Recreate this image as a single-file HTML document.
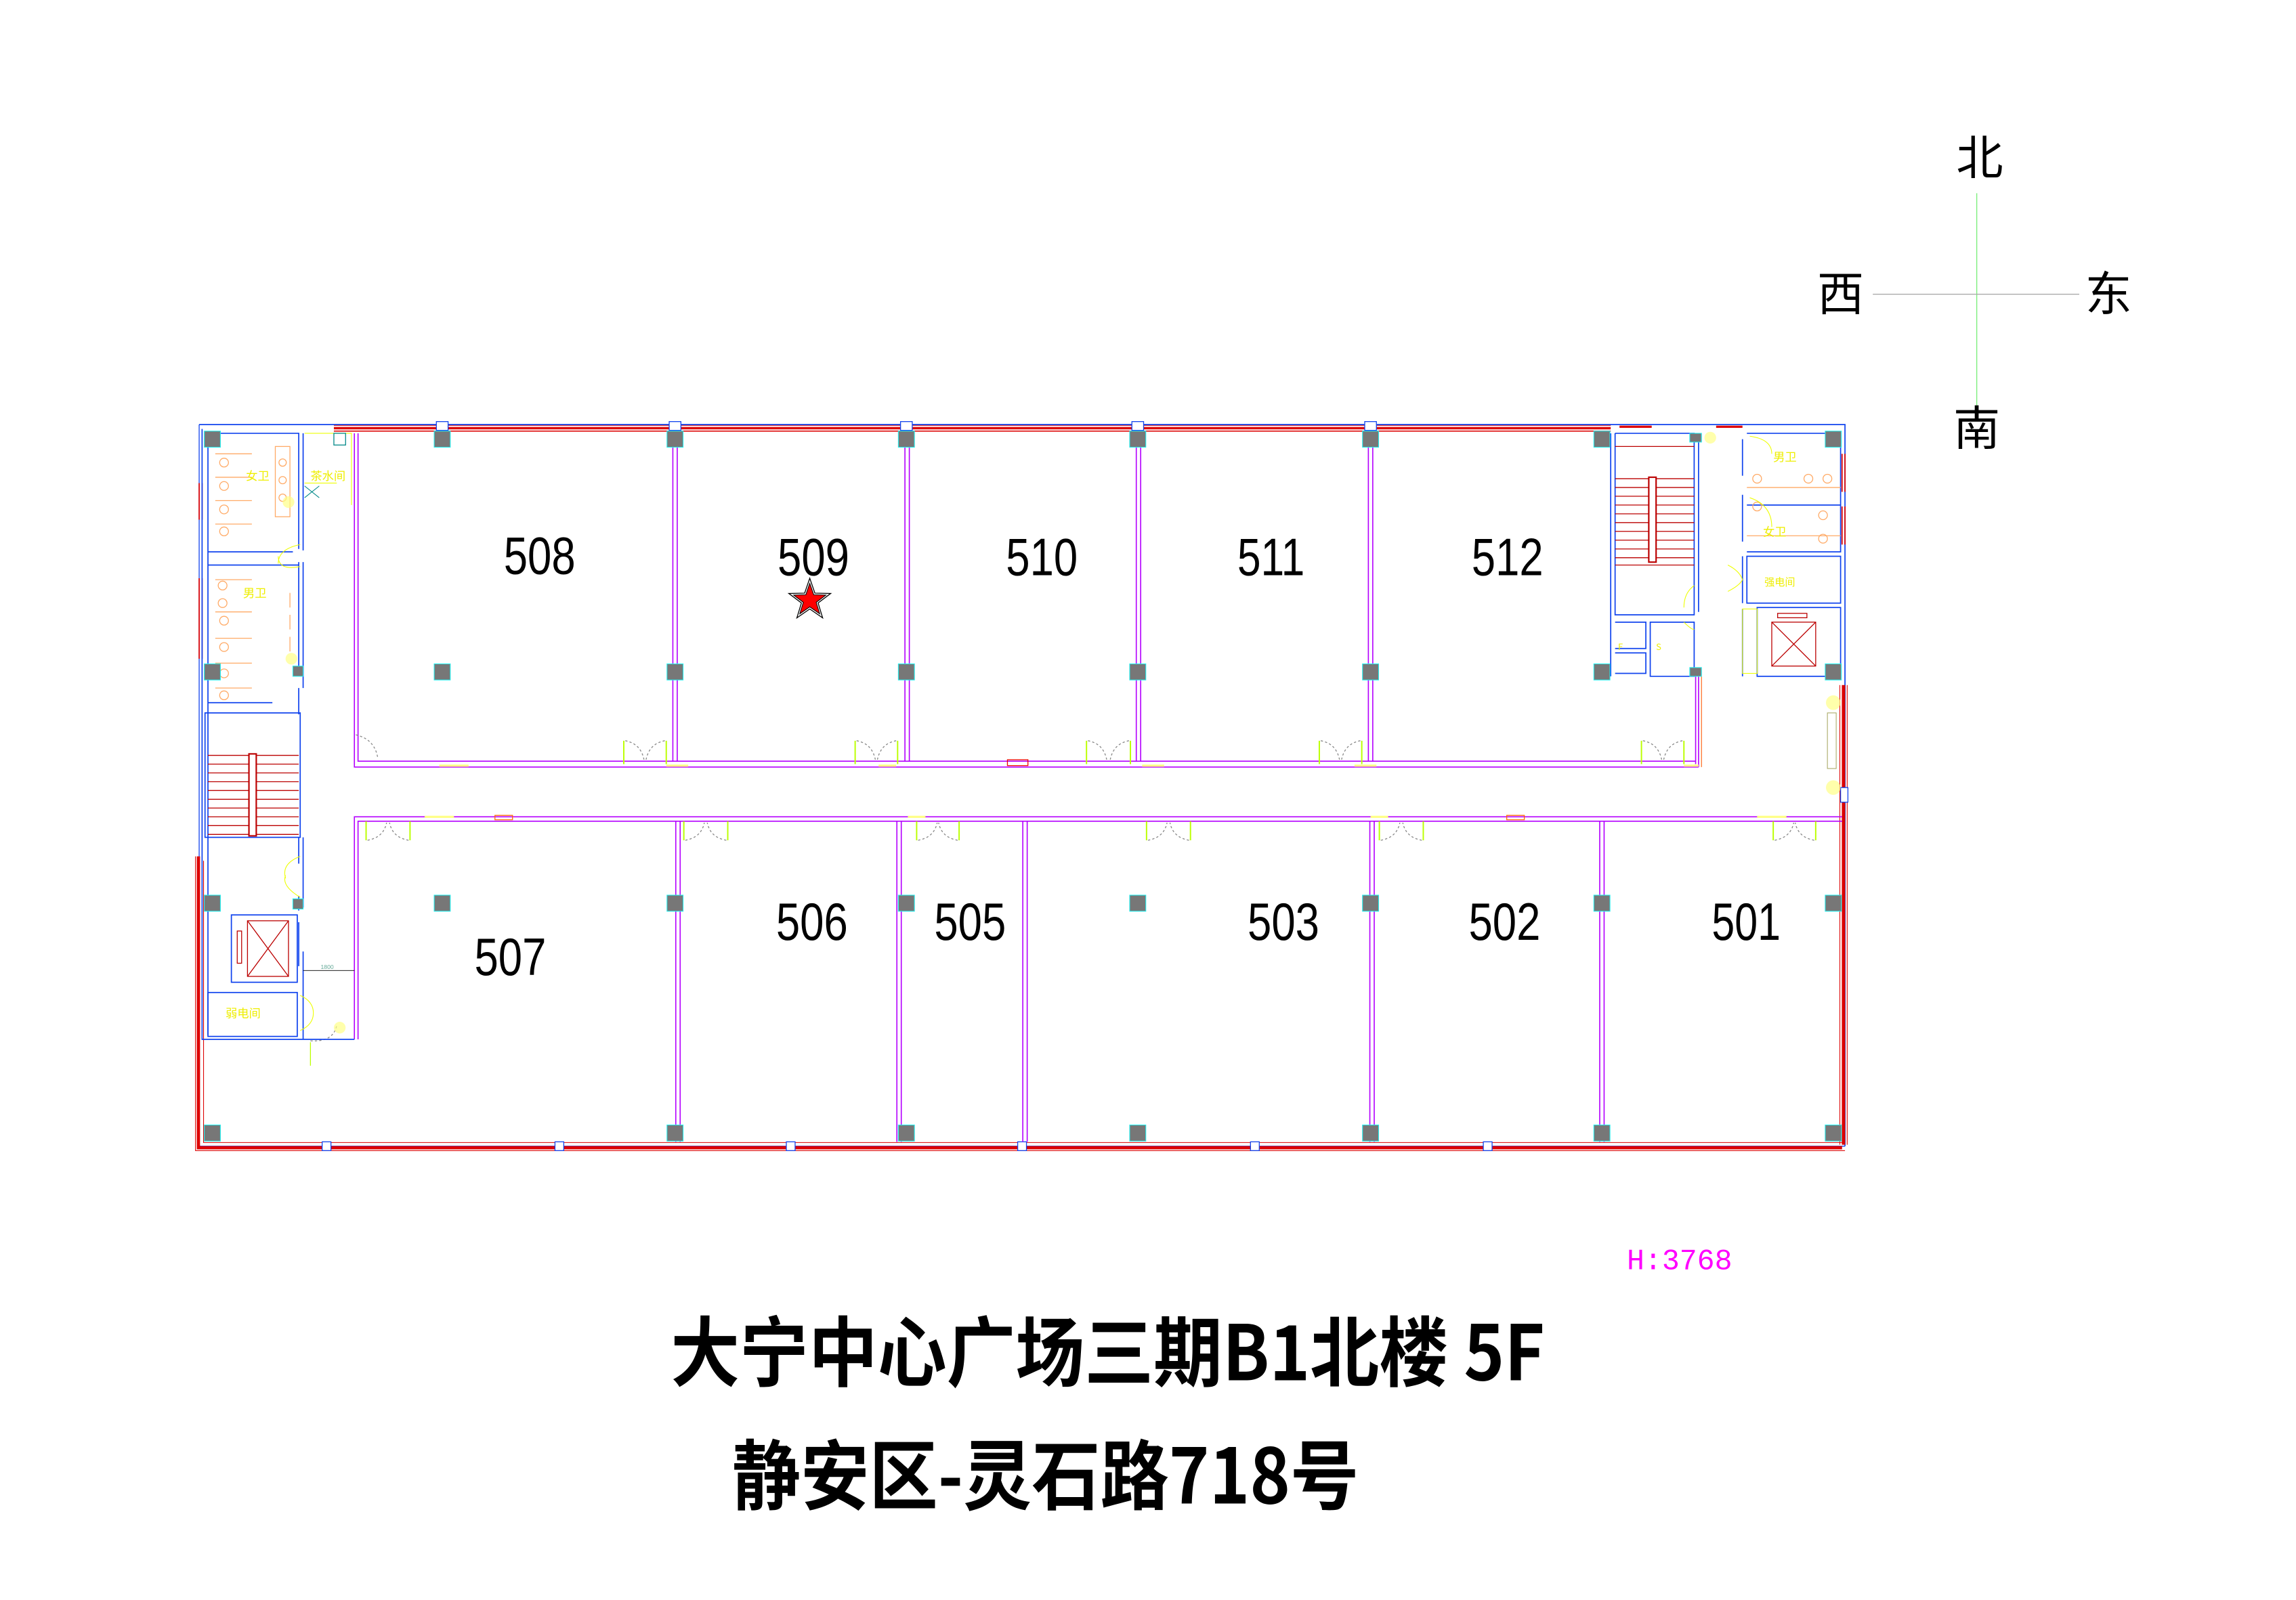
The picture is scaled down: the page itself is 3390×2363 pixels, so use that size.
<!DOCTYPE html>
<html><head><meta charset="utf-8"><style>html,body{margin:0;padding:0;background:#fff}svg{display:block}</style></head>
<body>
<svg width="3390" height="2363" viewBox="0 0 1568 1093" xmlns="http://www.w3.org/2000/svg" font-family="Liberation Sans, Noto Sans CJK SC, sans-serif">
<rect width="1568" height="1093" fill="#fff"/>
<!-- Outer walls -->
<g fill="none">
 <path d="M228 290.5H1100M228 294.5H1100" stroke="#d00" stroke-width="0.7"/>
 <path d="M228 292.5H1100" stroke="#d00" stroke-width="1.6"/>
 <path d="M136 290H1260V783" stroke="#1144ee" stroke-width="0.8"/>
 <path d="M136 290V783H1260" stroke="#1144ee" stroke-width="0.6"/>
 <path d="M135.5 585V784H1258" stroke="#d00" stroke-width="2.2"/>
 <path d="M133.5 585V786H1260M139 588V780.5H1258" stroke="#d00" stroke-width="0.5"/>
 <path d="M1259 468V538M1259 548V782" stroke="#d00" stroke-width="2.3"/>
 <path d="M1256.5 468V782M1261.5 468V782" stroke="#d00" stroke-width="0.5"/>
 <path d="M136 330V355M138 330V355M136 395V450M138 395V450M1258 310V336M1260 310V336M1258 346V372M1260 346V372" stroke="#d00" stroke-width="0.8"/>
 <path d="M1106 291.5H1128M1172 291.5H1190" stroke="#d00" stroke-width="1.5"/>
</g>
<g fill="#fff" stroke="#1144ee" stroke-width="0.6">
 <rect x="220" y="780" width="6" height="6"/><rect x="379" y="780" width="6" height="6"/><rect x="537" y="780" width="6" height="6"/><rect x="695" y="780" width="6" height="6"/><rect x="854" y="780" width="6" height="6"/><rect x="1013" y="780" width="6" height="6"/>
 <rect x="298" y="288" width="8" height="6"/><rect x="457" y="288" width="8" height="6"/><rect x="615" y="288" width="8" height="6"/><rect x="773" y="288" width="8" height="6"/><rect x="932" y="288" width="8" height="6"/>
 <rect x="1257" y="538" width="5" height="10"/>
</g>
<!-- Magenta room walls -->
<g fill="none" stroke="#b400ff" stroke-width="0.75">
 <path d="M242 296V524H1160M244.5 296V520H1158"/>
 <path d="M459.5 296V520M462.5 296V520M618 296V520M621 296V520M776 296V520M779 296V520M934.5 296V520M937.5 296V520"/>
 <path d="M242 710V558H1258M244.5 710V561H1258"/>
 <path d="M461.5 561V780M464.5 561V780M612.5 561V780M615.5 561V780M698.5 561V780M701.5 561V780M935.5 561V780M938.5 561V780M1092.5 561V780M1095.5 561V780"/>
 <path d="M1158 462V522M1160 462V524"/>
</g>
<path d="M1162 462V524" stroke="#f50" stroke-width="0.5" fill="none"/>
<g stroke="#ff8" stroke-width="1.5">
 <path d="M300 523H320M455 523H470M600 523H612M780 523H795M925 523H940M1150 523H1160"/>
 <path d="M290 558H310M620 558H632M936 558H948M1200 558H1220"/>
</g>
<rect x="688" y="519" width="14" height="4" fill="none" stroke="#e00" stroke-width="0.6"/>
<rect x="338" y="557" width="12" height="3" fill="none" stroke="#f60" stroke-width="0.6"/>
<rect x="1029" y="557" width="12" height="3" fill="none" stroke="#f60" stroke-width="0.6"/>
<!-- Doors -->
<g fill="none" stroke-width="0.6">
 <g stroke="#bf0" stroke-width="0.9">
  <path d="M426 506V522M455 506V522M584 506V522M613 506V522M742 506V522M772 506V522M901 506V522M930 506V522M1121 506V522M1150 506V522"/>
  <path d="M250 561V574M280 561V574M467 561V574M497 561V574M626 561V574M655 561V574M783 561V574M813 561V574M942 561V574M972 561V574M1211 561V574M1240 561V574"/>
 </g>
 <g stroke="#888" stroke-dasharray="1.5 1.5">
  <path d="M427 506Q438 508 440 520M454 506Q443 508 441 520M585 506Q596 508 598 520M612 506Q601 508 599 520M743 506Q754 508 756 520M771 506Q760 508 758 520M902 506Q913 508 915 520M929 506Q918 508 916 520M1122 506Q1133 508 1135 520M1149 506Q1138 508 1136 520"/>
  <path d="M251 574Q262 572 264 562M279 574Q268 572 266 562M468 574Q479 572 481 562M496 574Q485 572 483 562M627 574Q638 572 640 562M654 574Q643 572 641 562M784 574Q795 572 797 562M812 574Q801 572 799 562M943 574Q954 572 956 562M971 574Q960 572 958 562M1212 574Q1223 572 1225 562M1239 574Q1228 572 1226 562"/>
  <path d="M243 502Q256 505 258 518M212 711Q228 712 230 700"/>
 </g>
 <path d="M212 712V728" stroke="#bf0"/>
</g>
<!-- Left core -->
<g fill="none" stroke="#1144ee" stroke-width="0.8">
 <path d="M138 293V710H242M142 296V707"/>
 <path d="M142 296H204V375M142 377H200M142 386H204M142 480H186M204 384V460M204 470V488M207 296V376M207 384V470"/>
 <rect x="140" y="487" width="65" height="85"/>
 <path d="M204 572V590M207 572V620M204 612V622"/>
 <rect x="158" y="625" width="45" height="46"/>
 <rect x="142" y="678" width="61" height="30"/>
 <path d="M204 630V660M207 650V710"/>
</g>
<g stroke="#b00" stroke-width="0.6" fill="none">
 <path d="M142 516H204M142 522H204M142 528H204M142 534H204M142 540H204M142 546H204M142 552H204M142 558H204M142 564H204M142 570H204"/>
 <rect x="170" y="515" width="5" height="56" fill="#fff" stroke-width="1"/>
 <rect x="169" y="629" width="28" height="38"/><path d="M169 629L197 667M197 629L169 667"/>
 <rect x="162" y="636" width="3" height="22"/>
</g>
<g stroke="#fa6" stroke-width="0.6" fill="none">
 <path d="M147 310H172M147 326H172M147 342H172M147 358H172M147 396H172M147 418H172M147 436H172M147 453H172M147 470H172"/>
 <rect x="188" y="305" width="10" height="48"/>
 <circle cx="153" cy="316" r="3"/><circle cx="153" cy="332" r="3"/><circle cx="153" cy="348" r="3"/><circle cx="153" cy="363" r="3"/>
 <circle cx="193" cy="316" r="2.5"/><circle cx="193" cy="328" r="2.5"/><circle cx="193" cy="340" r="2.5"/>
 <circle cx="152" cy="400" r="3"/><circle cx="152" cy="412" r="3"/><circle cx="153" cy="424" r="3"/><circle cx="153" cy="442" r="3"/><circle cx="153" cy="460" r="3"/><circle cx="153" cy="475" r="3"/>
 <path d="M198 405V415M198 420V430M198 435V445"/>
</g>
<g fill="none" stroke="#ef0" stroke-width="0.5">
 <path d="M208 296H240V345M208 330H230"/>
 <path d="M205 372Q190 375 190 385M205 387Q190 390 190 380"/>
 <path d="M205 585Q192 590 195 600M205 613Q192 605 195 598"/>
 <path d="M205 680Q214 684 214 692M205 704Q214 700 214 692"/>
</g>
<path d="M208 332L218 340M218 332L208 340" stroke="#088" stroke-width="0.5"/>
<rect x="228" y="296" width="8" height="8" fill="none" stroke="#088" stroke-width="0.6"/>
<path d="M207 663H242" stroke="#000" stroke-width="0.4"/>
<text x="219" y="662" font-size="4" fill="#6a9">1800</text>
<!-- Right core -->
<g fill="none" stroke="#1144ee" stroke-width="0.8">
 <path d="M1100 296V462M1103 296H1157V420H1103V296M1160 296V418M1103 425H1124V443H1103M1103 446H1124V460H1103M1127 425H1157V462H1127Z"/>
 <path d="M1190 300V325M1190 338V370M1193 296H1257M1193 345H1257M1193 377H1257V296"/>
 <rect x="1193" y="380" width="64" height="32"/>
 <rect x="1200" y="415" width="57" height="47"/>
 <path d="M1190 380V412M1190 416V462"/>
</g>
<g stroke="#b00" stroke-width="0.6" fill="none">
 <path d="M1103 327H1157M1103 333H1157M1103 339H1157M1103 345H1157M1103 351H1157M1103 357H1157M1103 363H1157M1103 369H1157M1103 375H1157M1103 381H1157M1103 386H1157"/>
 <rect x="1126" y="326" width="5" height="58" fill="#fff" stroke-width="1"/>
 <path d="M1103 305H1157"/>
 <rect x="1210" y="425" width="30" height="30"/><path d="M1210 425L1240 455M1240 425L1210 455"/>
 <rect x="1214" y="419" width="20" height="3"/>
</g>
<g stroke="#fa6" stroke-width="0.6" fill="none">
 <path d="M1193 333H1257M1193 366H1257"/>
 <circle cx="1200" cy="327" r="3"/><circle cx="1200" cy="346" r="3"/><circle cx="1235" cy="327" r="3"/><circle cx="1248" cy="327" r="3"/><circle cx="1245" cy="352" r="3"/><circle cx="1245" cy="368" r="3"/>
</g>
<g fill="none" stroke="#ef0" stroke-width="0.5">
 <path d="M1195 298Q1210 300 1210 310M1195 340Q1210 345 1210 360M1180 386Q1188 390 1190 396M1180 404Q1188 400 1190 396M1157 400Q1150 405 1150 415M1150 425Q1155 430 1157 430"/>
 <rect x="1190" y="416" width="10" height="44"/>
 <rect x="1248" y="487" width="6" height="38" stroke="#aa6"/>
</g>
<g fill="#ff8" opacity="0.7"><circle cx="1168" cy="299" r="4"/><circle cx="1252" cy="480" r="5"/><circle cx="1252" cy="538" r="5"/><circle cx="199" cy="450" r="4"/><circle cx="232" cy="702" r="4"/><circle cx="197" cy="343" r="4"/></g>
<g fill="#ee0" font-family="Noto Sans CJK SC, WenQuanYi Zen Hei, sans-serif" font-size="8">
 <text x="168" y="328">女卫</text><text x="212" y="328">茶水间</text><text x="166" y="408">男卫</text><text x="154" y="695">弱电间</text>
 <text x="1211" y="315">男卫</text><text x="1204" y="366">女卫</text><text x="1205" y="400" font-size="7">强电间</text>
 <text x="1105" y="444" font-size="6">F</text><text x="1131" y="444" font-size="6">S</text>
</g>
<!-- Columns -->
<g fill="#777" stroke="#2ee" stroke-width="0.5">
 <rect x="139.5" y="294.5" width="11" height="11"/><rect x="296.5" y="294.5" width="11" height="11"/><rect x="455.5" y="294.5" width="11" height="11"/><rect x="613.5" y="294.5" width="11" height="11"/><rect x="771.5" y="294.5" width="11" height="11"/><rect x="930.5" y="294.5" width="11" height="11"/><rect x="1088.5" y="294.5" width="11" height="11"/><rect x="1246.5" y="294.5" width="11" height="11"/>
 <rect x="139.5" y="453.5" width="11" height="11"/><rect x="296.5" y="453.5" width="11" height="11"/><rect x="455.5" y="453.5" width="11" height="11"/><rect x="613.5" y="453.5" width="11" height="11"/><rect x="771.5" y="453.5" width="11" height="11"/><rect x="930.5" y="453.5" width="11" height="11"/><rect x="1088.5" y="453.5" width="11" height="11"/><rect x="1246.5" y="453.5" width="11" height="11"/>
 <rect x="139.5" y="611.5" width="11" height="11"/><rect x="296.5" y="611.5" width="11" height="11"/><rect x="455.5" y="611.5" width="11" height="11"/><rect x="613.5" y="611.5" width="11" height="11"/><rect x="771.5" y="611.5" width="11" height="11"/><rect x="930.5" y="611.5" width="11" height="11"/><rect x="1088.5" y="611.5" width="11" height="11"/><rect x="1246.5" y="611.5" width="11" height="11"/>
 <rect x="139.5" y="768.5" width="11" height="11"/><rect x="455.5" y="768.5" width="11" height="11"/><rect x="613.5" y="768.5" width="11" height="11"/><rect x="771.5" y="768.5" width="11" height="11"/><rect x="930.5" y="768.5" width="11" height="11"/><rect x="1088.5" y="768.5" width="11" height="11"/><rect x="1246.5" y="768.5" width="11" height="11"/>
 <rect x="200" y="455" width="7" height="7"/><rect x="200" y="614" width="7" height="7"/><rect x="1154" y="296" width="8" height="6"/><rect x="1154" y="456" width="8" height="6"/>
</g>
<!-- Room labels -->
<g font-size="36" fill="#000" lengthAdjust="spacingAndGlyphs">
 <text x="344" y="392" textLength="49" lengthAdjust="spacingAndGlyphs">508</text>
 <text x="531" y="393" textLength="49" lengthAdjust="spacingAndGlyphs">509</text>
 <text x="687" y="393" textLength="49" lengthAdjust="spacingAndGlyphs">510</text>
 <text x="845" y="393" textLength="46" lengthAdjust="spacingAndGlyphs">511</text>
 <text x="1005" y="393" textLength="49" lengthAdjust="spacingAndGlyphs">512</text>
 <text x="324" y="666" textLength="49" lengthAdjust="spacingAndGlyphs">507</text>
 <text x="530" y="642" textLength="49" lengthAdjust="spacingAndGlyphs">506</text>
 <text x="638" y="642" textLength="49" lengthAdjust="spacingAndGlyphs">505</text>
 <text x="852" y="642" textLength="49" lengthAdjust="spacingAndGlyphs">503</text>
 <text x="1003" y="642" textLength="49" lengthAdjust="spacingAndGlyphs">502</text>
 <text x="1169" y="642" textLength="47" lengthAdjust="spacingAndGlyphs">501</text>
</g>
<!-- Star -->
<g transform="translate(553,410)">
 <polygon points="0,-15 3.5,-4.8 14.3,-4.6 5.7,1.9 8.8,12.1 0,6 -8.8,12.1 -5.7,1.9 -14.3,-4.6 -3.5,-4.8" fill="none" stroke="#000" stroke-width="0.6"/>
 <polygon points="0,-11.5 2.7,-3.7 11,-3.5 4.4,1.5 6.8,9.3 0,4.6 -6.8,9.3 -4.4,1.5 -11,-3.5 -2.7,-3.7" fill="#f00" stroke="#000" stroke-width="0.5"/>
</g>
<!-- Compass -->
<path d="M1350 132V277" stroke="#7e7" stroke-width="0.6"/>
<path d="M1279 201H1420" stroke="#aaa" stroke-width="0.6"/>
<g font-family="Noto Sans CJK SC, WenQuanYi Zen Hei, sans-serif" font-size="32" fill="#000" text-anchor="middle">
 <text x="1352" y="119">北</text><text x="1350" y="304">南</text><text x="1257" y="212">西</text><text x="1440" y="212">东</text>
</g>
<text x="1111" y="867" font-family="Liberation Mono, monospace" font-size="20" fill="#f0f">H:3768</text>
<!-- Title -->
<g font-family="Noto Sans CJK SC, WenQuanYi Zen Hei, sans-serif" font-weight="bold" fill="#000">
 <text x="458" y="943" font-size="52" textLength="597" lengthAdjust="spacingAndGlyphs">大宁中心广场三期B1北楼 5F</text>
 <text x="500" y="1027" font-size="52" textLength="428" lengthAdjust="spacingAndGlyphs">静安区-灵石路718号</text>
</g>
</svg>
</body></html>
